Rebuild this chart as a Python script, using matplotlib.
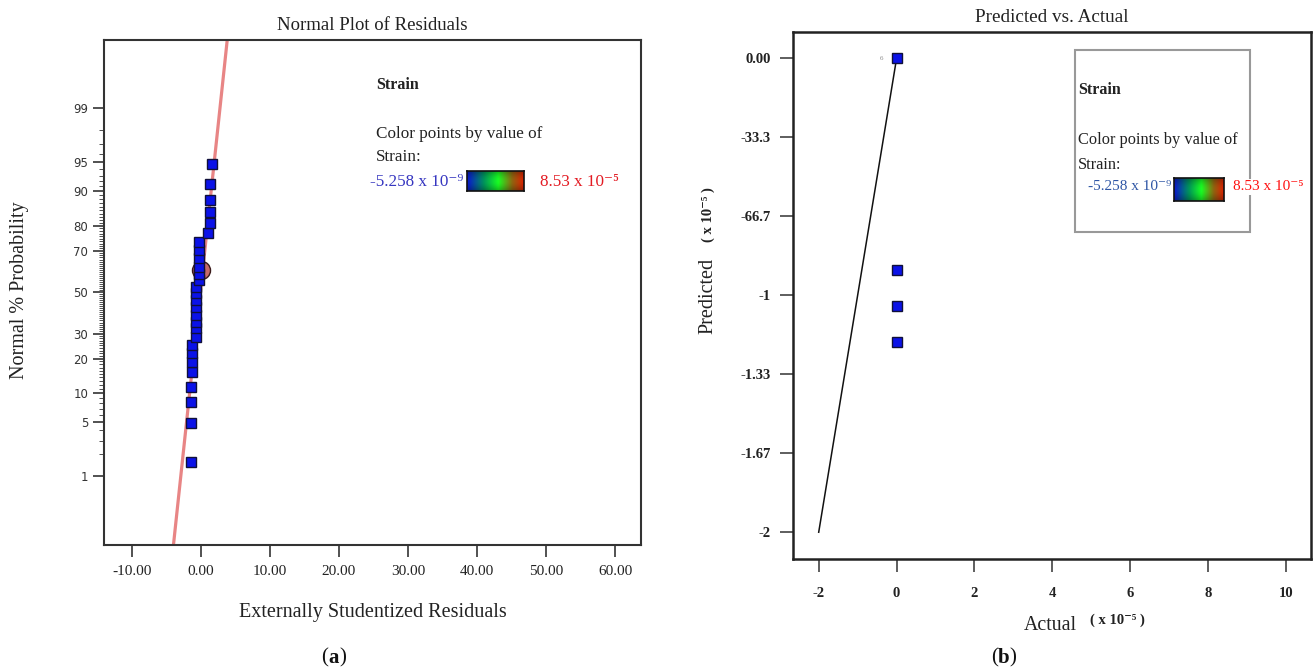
import numpy as np
import matplotlib
matplotlib.use('Agg')
import matplotlib.pyplot as plt
from matplotlib.colors import LinearSegmentedColormap
from matplotlib.patches import Rectangle
from statistics import NormalDist

plt.rcParams['font.family'] = ['Liberation Serif', 'DejaVu Serif']
plt.rcParams['axes.unicode_minus'] = False

# (a) normal plot of residuals
prob_pct = [1.6, 4.9, 8.2, 11.5, 15.6, 18.9, 21.9, 25.1, 28.6, 32.3, 35.3, 38.6, 42.6, 46.0,
            49.4, 52.7, 56.0, 59.3, 62.6, 66.5, 70.3, 73.8, 77.4, 81.0, 84.5, 87.8, 91.4, 94.8]
resid = [-1.4, -1.4, -1.4, -1.4, -1.3, -1.3, -1.3, -1.3,
         -0.62, -0.62, -0.62, -0.62, -0.62, -0.62, -0.62, -0.62,
         -0.25, -0.25, -0.25, -0.25, -0.25, -0.25,
         1.11, 1.40, 1.40, 1.40, 1.40, 1.69]
circle_prob = [61.0]
circle_resid = [0.1]
fit_prob = [0.0687, 99.929]
fit_resid = [-3.95, 3.83]
a_xticks = [-10, 0, 10, 20, 30, 40, 50, 60]
a_yticks = [1, 5, 10, 20, 30, 50, 70, 80, 90, 95, 99]

# (b) predicted vs actual (x 10^-5)
actual = [0, 0, 0, 0]
predicted = [0, -0.893, -1.045, -1.198]
line_actual = [-2, 0]
line_pred = [-2, 0]
b_xticks = [-2, 0, 2, 4, 6, 8, 10]
b_yticks = [0, -1/3, -2/3, -1, -4/3, -5/3, -2]
b_ylabels = ['0.00', '-33.3', '-66.7', '-1', '-1.33', '-1.67', '-2']

W, H = 1314, 668
fig = plt.figure(figsize=(W / 100, H / 100), dpi=100)


def fx(x):
    return x / W


def fy(y):
    return 1 - y / H


def rect(x0, y0, x1, y1):
    return [fx(x0), fy(y1), (x1 - x0) / W, (y1 - y0) / H]


nd = NormalDist()
ppf = np.vectorize(lambda p: nd.inv_cdf(min(max(p / 100, 1e-12), 1 - 1e-12)), otypes=[float])
cdf = np.vectorize(lambda z: nd.cdf(z) * 100, otypes=[float])

txt = '#222222'
sq_face = '#0b12e8'
sq_edge = '#10103a'

# ---- panel (a)
ax1 = fig.add_axes(rect(104, 40, 641, 545))
ax1.set_yscale('function', functions=(ppf, cdf))
ax1.plot(fit_resid, fit_prob, color='#e88585', lw=2.3, zorder=1)
ax1.plot(circle_resid, circle_prob, 'o', ms=13, mfc='#c46a6a', mec='#3a1a1a', mew=1, zorder=2)
ax1.plot(resid, prob_pct, 's', ms=7.4, mfc=sq_face, mec=sq_edge, mew=1, zorder=3)
ax1.set_xlim(-14.0, 63.7)
ax1.set_ylim(0.0687, 99.929)
ax1.set_xticks(a_xticks)
ax1.set_xticklabels(['%.2f' % v for v in a_xticks], fontsize=11, color=txt)
ax1.set_yticks(a_yticks)
ax1.set_yticklabels([str(v) for v in a_yticks], fontsize=8.5, color='#333333', family='DejaVu Sans')
ax1.set_yticks([v for v in range(2, 99) if v not in a_yticks], minor=True)
ax1.tick_params(axis='x', length=8.6, width=1.2, pad=5.5, color='#333333')
ax1.tick_params(axis='y', which='major', length=7.9, width=1.2, pad=3.5, color='#333333')
ax1.tick_params(axis='y', which='minor', length=3.6, width=0.6, color='#333333')
for s in ax1.spines.values():
    s.set_color('#333333')
    s.set_linewidth(1.5)

fig.text(fx(372), fy(25), 'Normal Plot of Residuals', fontsize=13.5, color=txt, ha='center', va='center')
fig.text(fx(373), fy(612), 'Externally Studentized Residuals', fontsize=14.5, color=txt, ha='center', va='center')
fig.text(fx(20), fy(290), 'Normal % Probability', fontsize=14.5, color=txt, ha='center', va='center',
         rotation=90)

strain_cmap = LinearSegmentedColormap.from_list(
    'strain', [(0, '#0a14d0'), (0.3, '#00965a'), (0.55, '#18ff22'), (0.8, '#906410'), (1, '#dc2000')])


def color_bar(x0, y0, x1, y1):
    cax = fig.add_axes(rect(x0, y0, x1, y1))
    t = np.linspace(0, 1, 30)
    shade = 0.72 + 0.28 * np.sin(np.pi * t)
    img = strain_cmap(np.linspace(0, 1, 200))[None, :, :3] * shade[:, None, None]
    cax.imshow(img, aspect='auto', interpolation='bilinear')
    cax.set_xticks([])
    cax.set_yticks([])
    for s in cax.spines.values():
        s.set_color('#111111')
        s.set_linewidth(1.2)


fig.text(fx(376), fy(85), 'Strain', fontsize=11.5, fontweight='bold', color=txt, va='center')
fig.text(fx(376), fy(134), 'Color points by value of', fontsize=12.3, color=txt, va='center')
fig.text(fx(376), fy(157), 'Strain:', fontsize=12.3, color=txt, va='center')
fig.text(fx(370), fy(182), '-5.258 x 10⁻⁹', fontsize=12.3, color='#3636c0', va='center')
color_bar(467, 171, 524, 191)
fig.text(fx(540), fy(182), '8.53 x 10⁻⁵', fontsize=12.3, color='#e31b23', va='center')

# ---- panel (b)
ax2 = fig.add_axes(rect(793, 32, 1311, 559))
ax2.plot(line_actual, line_pred, color='#111111', lw=1.1, zorder=2)
ax2.plot(actual, predicted, 's', ms=7.4, mfc=sq_face, mec=sq_edge, mew=1, zorder=3)
ax2.text(-0.38, 0, '6', fontsize=5, color='#888888', ha='center', va='center')
ax2.set_xlim(-2.66, 10.64)
ax2.set_ylim(-2.113, 0.111)
ax2.set_xticks(b_xticks)
ax2.set_xticklabels([str(v) for v in b_xticks], fontsize=10.5, fontweight='bold', color=txt)
ax2.set_yticks(b_yticks)
ax2.set_yticklabels(b_ylabels, fontsize=10.5, fontweight='bold', color=txt)
ax2.tick_params(axis='x', length=9.4, width=1.1, pad=10.5, color='#333333')
ax2.tick_params(axis='y', length=9.4, width=1.1, pad=6.5, color='#333333')
for s in ax2.spines.values():
    s.set_color('#222222')
    s.set_linewidth(1.8)

fig.text(fx(1052), fy(17), 'Predicted vs. Actual', fontsize=13.8, color=txt, ha='center', va='center')
fig.text(fx(1050), fy(625), 'Actual', fontsize=14.3, color=txt, ha='center', va='center')
fig.text(fx(1117), fy(620), '( x 10⁻⁵ )', fontsize=10.5, fontweight='bold', color=txt, ha='center', va='center')
fig.text(fx(708), fy(296), 'Predicted', fontsize=14.5, color=txt, ha='center', va='center', rotation=90)
fig.text(fx(708), fy(215), '( x 10⁻⁵ )', fontsize=10.5, fontweight='bold', color=txt, ha='center',
         va='center', rotation=90)

fig.patches.append(Rectangle((fx(1075), fy(232)), (1250 - 1075) / W, (232 - 50) / H,
                             transform=fig.transFigure, fill=False, edgecolor='#999999', lw=1.5))
fig.text(fx(1078), fy(90), 'Strain', fontsize=11.5, fontweight='bold', color=txt, va='center')
fig.text(fx(1078), fy(140), 'Color points by value of', fontsize=11.8, color=txt, va='center')
fig.text(fx(1078), fy(165), 'Strain:', fontsize=11.8, color=txt, va='center')
fig.text(fx(1088), fy(187), '-5.258 x 10⁻⁹', fontsize=11, color='#2d55a5', va='center')
color_bar(1174, 178, 1224, 201)
fig.text(fx(1233), fy(187), '8.53 x 10⁻⁵', fontsize=11, color='#ff1010', va='center',
         bbox=dict(facecolor='white', edgecolor='none', pad=1))

# panel letters
fig.text(fx(328), fy(658), '(', fontsize=15, color='#111111', ha='right', va='center')
fig.text(fx(328), fy(658), 'a', fontsize=15, fontweight='bold', color='#111111', ha='left', va='center')
fig.text(fx(339), fy(658), ')', fontsize=15, color='#111111', ha='left', va='center')
fig.text(fx(998), fy(658), '(', fontsize=15, color='#111111', ha='right', va='center')
fig.text(fx(998), fy(658), 'b', fontsize=15, fontweight='bold', color='#111111', ha='left', va='center')
fig.text(fx(1009), fy(658), ')', fontsize=15, color='#111111', ha='left', va='center')

fig.savefig('out.png', dpi=100)
